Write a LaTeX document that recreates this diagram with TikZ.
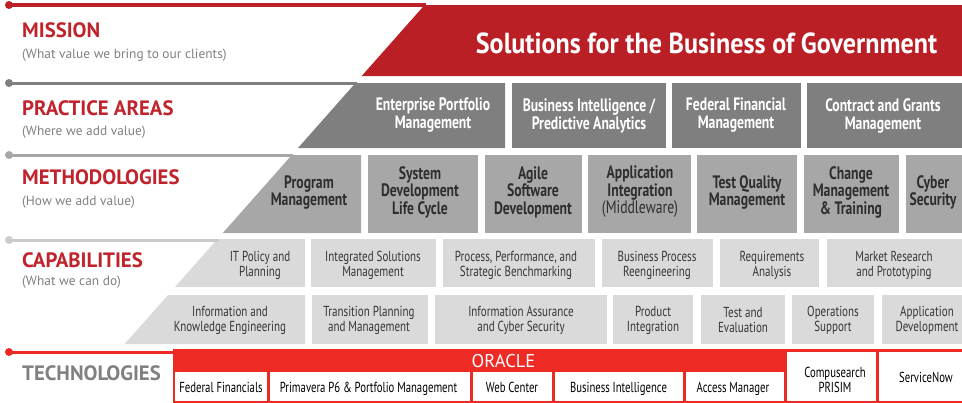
\documentclass[tikz,border=0pt]{standalone}
\usepackage{fontspec}
\setmainfont{PT Sans}
\newfontfamily\cnd[FakeStretch=0.76]{PT Sans}
\newfontfamily\cndt[FakeStretch=0.74]{PT Sans}
\newfontfamily\ttl[FakeStretch=0.9]{PT Sans}
\definecolor{redline}{HTML}{BD2026}
\definecolor{missionred}{HTML}{BA1F26}
\definecolor{headred}{HTML}{C0232B}
\definecolor{pgray}{HTML}{7F7F80}
\definecolor{mgray}{HTML}{A7A7A7}
\definecolor{cline}{HTML}{CBCBCB}
\definecolor{cgray}{HTML}{DADADA}
\definecolor{subgray}{HTML}{808080}
\definecolor{techred}{HTML}{EE2A24}
\definecolor{mtxt}{HTML}{2E2E2E}
\definecolor{ctxt}{HTML}{363636}
\tikzset{
  head/.style={anchor=base west, inner sep=0pt, font=\bfseries\fontsize{20.8}{22}\selectfont, text=headred},
  subhead/.style={anchor=base west, inner sep=0pt, font=\fontsize{13.4}{15}\selectfont, text=subgray},
  patext/.style={align=center, inner sep=0pt, text=white, font=\cnd\bfseries\fontsize{18}{18}\selectfont},
  mtext/.style={align=center, inner sep=0pt, text=mtxt, font=\cnd\bfseries\fontsize{18}{17.5}\selectfont},
  ctext/.style={align=center, inner sep=0pt, text=ctxt, font=\cnd\fontsize{14.5}{15}\selectfont},
  ttext/.style={align=center, inner sep=0pt, text=black, font=\cndt\fontsize{14.5}{15}\selectfont},
  dotnode/.style={circle, inner sep=0pt, minimum size=8pt},
}
\begin{document}
\begin{tikzpicture}[x=1pt,y=-1pt]
\useasboundingbox (0,0) rectangle (962,402);
% ---------- MISSION ----------
\fill[missionred] (424.6,5) -- (962,5) -- (962,76) -- (361.7,76) -- cycle;
\coordinate (mEnd) at (426,5);
\node[dotnode, fill=redline] (mDot) at (9,5) {};
\draw[redline, line width=4pt] (mDot.center) -- (mEnd);
\node[head] (mHead) at (22,37) {MISSION};
\node[subhead] (mSub) at (22,58) {(What value we bring to our clients)};
\node[text=white, inner sep=0pt, anchor=base, font=\ttl\bfseries\fontsize{29}{30}\selectfont] (mTitle) at (706.5,53) {Solutions for the Business of Government};
% ---------- PRACTICE AREAS ----------
\fill[pgray] (355.5,83) -- (505,83) -- (505,148) -- (298,148) -- cycle;
\fill[pgray] (512,83) rectangle (666,148);
\fill[pgray] (672,83) rectangle (801,148);
\fill[pgray] (807,83) rectangle (962,148);
\coordinate (pEnd) at (357,83);
\node[dotnode, fill=pgray] (pDot) at (9,83) {};
\draw[pgray, line width=3pt] (pDot.center) -- (pEnd);
\node[head] (pHead) at (22,115) {PRACTICE AREAS};
\node[subhead] (pSub) at (22,135) {(Where we add value)};
\node[patext] (p1) at (433,115.5) {Enterprise Portfolio\\Management};
\node[patext] (p2) at (589,115.5) {Business Intelligence /\\Predictive Analytics};
\node[patext] (p3) at (736,115.5) {Federal Financial\\Management};
\node[patext] (p4) at (883,115.5) {Contract and Grants\\Management};
% ---------- METHODOLOGIES ----------
\fill[mgray] (291.8,155) -- (361,155) -- (361,233) -- (222.8,233) -- cycle;
\fill[mgray] (368,155) rectangle (478,233);
\fill[mgray] (485,155) rectangle (582,233);
\fill[mgray] (588,155) rectangle (691,233);
\fill[mgray] (697,155) rectangle (797,233);
\fill[mgray] (804,155) rectangle (899,233);
\fill[mgray] (906,155) rectangle (962,233);
\coordinate (meEnd) at (293,155);
\node[dotnode, fill=mgray] (meDot) at (9,155) {};
\draw[mgray, line width=3pt] (meDot.center) -- (meEnd);
\node[head] (meHead) at (22,184) {METHODOLOGIES};
\node[subhead] (meSub) at (22,205) {(How we add value)};
\node[mtext] (m1) at (309,192.5) {Program\\Management};
\node[mtext] (m2) at (420,192) {System\\Development\\Life Cycle};
\node[mtext] (m3) at (533,192) {Agile\\Software\\Development};
\node[mtext] (m4) at (640,192) {Application\\Integration\\{\mdseries(Middleware)}};
\node[mtext] (m5) at (747,192.5) {Test Quality\\Management};
\node[mtext] (m6) at (851,192) {Change\\Management\\\&~Training};
\node[mtext] (m7) at (933,192.5) {Cyber\\Security};
% ---------- CAPABILITIES ----------
\fill[cgray] (217.5,239) -- (305,239) -- (305,287) -- (175,287) -- cycle;
\fill[cgray] (311,239) rectangle (436,287);
\fill[cgray] (443,239) rectangle (595,287);
\fill[cgray] (602,239) rectangle (713,287);
\fill[cgray] (720,239) rectangle (819,287);
\fill[cgray] (827,239) rectangle (962,287);
\fill[cgray] (168,295) -- (305,295) -- (305,344) -- (124.6,344) -- cycle;
\fill[cgray] (312,295) rectangle (428,344);
\fill[cgray] (435,295) rectangle (607,344);
\fill[cgray] (613,295) rectangle (693,344);
\fill[cgray] (701,295) rectangle (785,344);
\fill[cgray] (792,295) rectangle (874,344);
\fill[cgray] (882,295) rectangle (962,344);
\coordinate (cEnd) at (219,240);
\node[dotnode, fill=cline] (cDot) at (9,240) {};
\draw[cline, line width=3pt] (cDot.center) -- (cEnd);
\node[head] (cHead) at (22,267) {CAPABILITIES};
\node[subhead] (cSub) at (22,285) {(What we can do)};
\node[ctext] (c1) at (260,265) {IT Policy and\\Planning};
\node[ctext] (c2) at (373,265) {Integrated Solutions\\Management};
\node[ctext] (c3) at (516,265) {Process, Performance, and\\Strategic Benchmarking};
\node[ctext] (c4) at (657,265) {Business Process\\Reengineering};
\node[ctext] (c5) at (772,265) {Requirements\\Analysis};
\node[ctext] (c6) at (894,265) {Market Research\\and Prototyping};
\node[ctext] (d1) at (230,320.5) {Information and\\Knowledge Engineering};
\node[ctext] (d2) at (369,320.5) {Transition Planning\\and Management};
\node[ctext] (d3) at (521,320.5) {Information Assurance\\and Cyber Security};
\node[ctext] (d4) at (653,320.5) {Product\\Integration};
\node[ctext] (d5) at (743,320.5) {Test and\\Evaluation};
\node[ctext] (d6) at (833,320.5) {Operations\\Support};
\node[ctext] (d7) at (927,320.5) {Application\\Development};
% ---------- TECHNOLOGIES ----------
\fill[techred] (173,349) rectangle (785,403);
\fill[white] (175,372) rectangle (266.5,401);
\fill[white] (269.5,372) rectangle (469.5,401);
\fill[white] (472.5,372) rectangle (551.5,401);
\fill[white] (554.5,372) rectangle (682.5,401);
\fill[white] (685.5,372) rectangle (783.5,401);
\fill[techred] (783.5,349) rectangle (964,403);
\fill[white] (786.5,352) rectangle (875.5,401);
\fill[white] (878.5,352) rectangle (964,401);
\coordinate (tEnd) at (174,352);
\node[dotnode, fill=techred] (tDot) at (9,352) {};
\draw[techred, line width=3pt] (tDot.center) -- (tEnd);
\node[head, text=subgray] (tHead) at (22,380.5) {TECHNOLOGIES};
\node[text=white, inner sep=0pt, anchor=base, font=\fontsize{18.5}{20}\selectfont] (oracle) at (503.5,367) {ORACLE};
\node[ttext, anchor=base] (t1) at (221,392) {Federal Financials};
\node[ttext, anchor=base] (t2) at (368.5,392) {Primavera P6 \& Portfolio Management};
\node[ttext, anchor=base] (t3) at (512,392) {Web Center};
\node[ttext, anchor=base] (t4) at (618.5,392) {Business Intelligence};
\node[ttext, anchor=base] (t5) at (733,392) {Access Manager};
\node[ttext] (t6) at (835,380) {Compusearch\\PRISIM};
\node[ttext] (t7) at (926,377.5) {ServiceNow};
\end{tikzpicture}
\end{document}
